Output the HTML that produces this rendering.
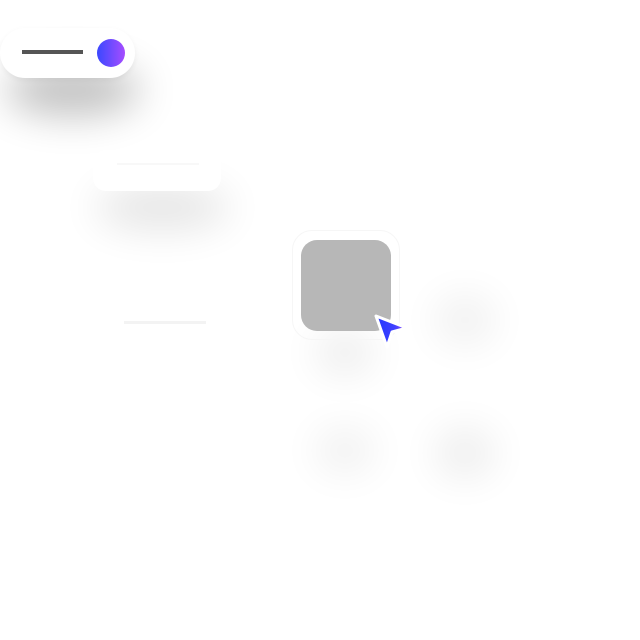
<!DOCTYPE html>
<html><head><style>
body{margin:0;width:640px;height:640px;background:#fff;position:relative;overflow:hidden;font-family:"Liberation Sans",sans-serif}
.a{position:absolute}
.blob{position:absolute;border-radius:50%;background:#000;filter:blur(20px)}
</style></head><body>
<div class="blob" style="left:5px;top:65px;width:135px;height:50px;opacity:.25"></div>
<div class="a" style="left:0;top:28px;width:135px;height:50px;border-radius:25px;background:#fff;box-shadow:0 2px 6px rgba(0,0,0,.05)"></div>
<div class="a" style="left:22px;top:50px;width:61px;height:4px;background:#555"></div>
<div class="a" style="left:97px;top:39px;width:28px;height:28px;border-radius:50%;background:linear-gradient(90deg,#3a48ff,#a64dff)"></div>

<div class="blob" style="left:95px;top:185px;width:135px;height:45px;opacity:.1"></div>
<div class="a" style="left:93px;top:150px;width:128px;height:41px;border-radius:13px;background:#fff"></div>
<div class="a" style="left:117px;top:163px;width:82px;height:2px;background:#f8f8f8"></div>
<div class="a" style="left:124px;top:321px;width:82px;height:3px;background:#f3f3f3"></div>

<div class="blob" style="left:315px;top:330px;width:60px;height:45px;opacity:.07"></div>
<div class="blob" style="left:435px;top:295px;width:60px;height:50px;opacity:.06"></div>
<div class="blob" style="left:315px;top:428px;width:60px;height:45px;opacity:.06"></div>
<div class="blob" style="left:435px;top:428px;width:60px;height:50px;opacity:.07"></div>

<div class="a" style="left:292px;top:230px;width:108px;height:110px;border-radius:20px;border:1px solid #f6f6f6;box-sizing:border-box"></div>
<div class="a" style="left:301px;top:240px;width:90px;height:91px;border-radius:16px;background:#b7b7b7"></div>
<svg class="a" style="left:370px;top:310px" width="44" height="44" viewBox="0 0 44 44">
<defs><linearGradient id="g" x1="0" x2="1"><stop offset="0" stop-color="#2438ff"/><stop offset="0.6" stop-color="#3f40ff"/><stop offset="1" stop-color="#9a4dff"/></linearGradient></defs>
<path d="M6 6 L37 18 L22 22 L17 37 Z" fill="url(#g)" stroke="#fff" stroke-width="3" stroke-linejoin="round"/>
</svg>
</body></html>
